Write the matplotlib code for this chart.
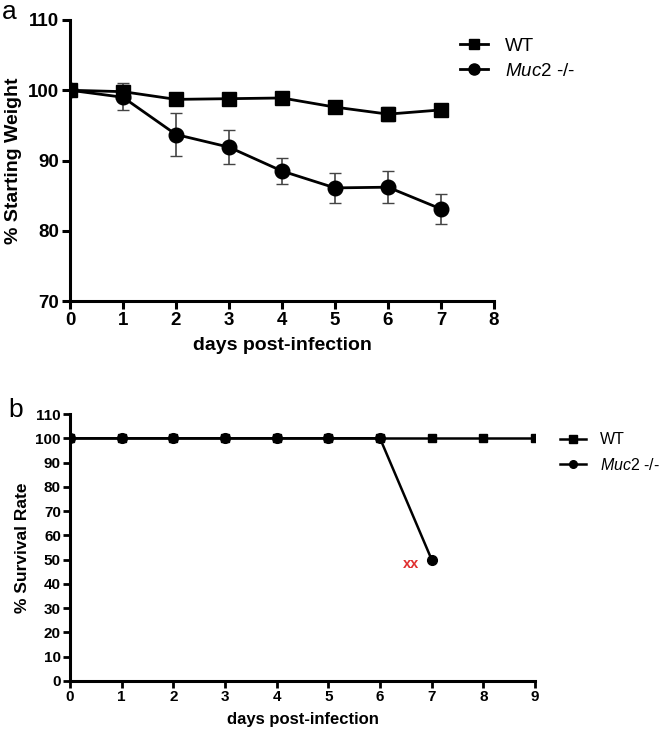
import matplotlib
matplotlib.use("Agg")
import matplotlib.pyplot as plt
from matplotlib.lines import Line2D

# ---- data panel a ----
days_a = [0, 1, 2, 3, 4, 5, 6, 7]
wt_weight = [100.0, 99.8, 98.7, 98.8, 98.9, 97.6, 96.6, 97.2]
wt_err = [0.0, 1.2, 0.3, 0.3, 0.3, 0.4, 1.0, 0.4]
muc_weight = [100.0, 99.0, 93.7, 91.9, 88.5, 86.1, 86.2, 83.1]
muc_err = [0.0, 1.8, 3.0, 2.4, 1.8, 2.1, 2.3, 2.1]

# ---- data panel b ----
days_wt_b = [0, 1, 2, 3, 4, 5, 6, 7, 8, 9]
wt_surv = [100, 100, 100, 100, 100, 100, 100, 100, 100, 100]
days_muc_b = [0, 1, 2, 3, 4, 5, 6, 7]
muc_surv = [100, 100, 100, 100, 100, 100, 100, 50]

plt.rcParams['font.family'] = ['Liberation Sans', 'DejaVu Sans']
plt.rcParams['mathtext.fontset'] = 'custom'
plt.rcParams['mathtext.rm'] = 'Liberation Sans'
plt.rcParams['mathtext.it'] = 'Liberation Sans:italic'

muc_label = '$\\mathit{Muc2}$ -/-'

fig = plt.figure(figsize=(6.66, 7.35), dpi=100)

# Panel a
axa = fig.add_axes([70/666, 1-301/735, (494-70)/666, (301-20)/735])
axa.errorbar(days_a, wt_weight, yerr=wt_err, color='black', marker='s', markersize=9.5,
             linewidth=2, capsize=4, elinewidth=1.2, ecolor='#444444', zorder=3)
axa.errorbar(days_a, muc_weight, yerr=muc_err, color='black', marker='o', markersize=10.5,
             linewidth=2, capsize=4, elinewidth=1.2, ecolor='#444444', zorder=3)
axa.set_xlim(0, 8)
axa.set_ylim(70, 110)
axa.set_xticks(range(0, 9))
axa.set_yticks([70, 80, 90, 100, 110])
for s in ['top', 'right']:
    axa.spines[s].set_visible(False)
for s in ['left', 'bottom']:
    axa.spines[s].set_linewidth(2.2)
axa.tick_params(width=2.2, length=6, labelsize=13.5, pad=2)
for lab in axa.get_xticklabels() + axa.get_yticklabels():
    lab.set_fontweight('bold')
axa.set_xlabel('days post-infection', fontsize=14, fontweight='bold', labelpad=6)
axa.set_ylabel('% Starting Weight', fontsize=14, fontweight='bold', labelpad=4)
ha = [Line2D([], [], color='black', marker='s', markersize=7.5, linewidth=2),
      Line2D([], [], color='black', marker='o', markersize=8, linewidth=2)]
fig.legend(ha, ['WT', muc_label], loc='upper left', bbox_to_anchor=(443/666, 1-21/735),
           frameon=False, fontsize=13.5, handlelength=1.5, handletextpad=0.9, labelspacing=0.4)
fig.text(2/666, 1-12/735, 'a', fontsize=19, va='center', ha='left')

# Panel b
axb = fig.add_axes([70/666, 1-681/735, (535-70)/666, (681-414)/735])
axb.plot(days_wt_b, wt_surv, color='black', marker='s', markersize=6, linewidth=1.8, zorder=3)
axb.plot(days_muc_b, muc_surv, color='black', marker='o', markersize=7, linewidth=1.8, zorder=3)
axb.text(6.6, 48, 'xx', color='#e03030', fontsize=10.5, fontweight='bold', ha='center', va='center')
axb.set_xlim(0, 9)
axb.set_ylim(0, 110)
axb.set_xticks(range(0, 10))
axb.set_yticks(range(0, 111, 10))
for s in ['top', 'right']:
    axb.spines[s].set_visible(False)
for s in ['left', 'bottom']:
    axb.spines[s].set_linewidth(2.2)
axb.tick_params(width=2.0, length=5, labelsize=11, pad=1.5)
for lab in axb.get_xticklabels() + axb.get_yticklabels():
    lab.set_fontweight('bold')
axb.set_xlabel('days post-infection', fontsize=12, fontweight='bold', labelpad=6)
axb.set_ylabel('% Survival Rate', fontsize=12.5, fontweight='bold', labelpad=4)
hb = [Line2D([], [], color='black', marker='s', markersize=5.5, linewidth=1.8),
      Line2D([], [], color='black', marker='o', markersize=5.5, linewidth=1.8)]
fig.legend(hb, ['WT', muc_label], loc='upper left', bbox_to_anchor=(546/666, 1-418/735),
           frameon=False, fontsize=11.5, handlelength=1.6, handletextpad=0.9, labelspacing=0.6)
fig.text(8/666, 1-410/735, 'b', fontsize=19, va='center', ha='left')

fig.savefig('out.png', dpi=100)
